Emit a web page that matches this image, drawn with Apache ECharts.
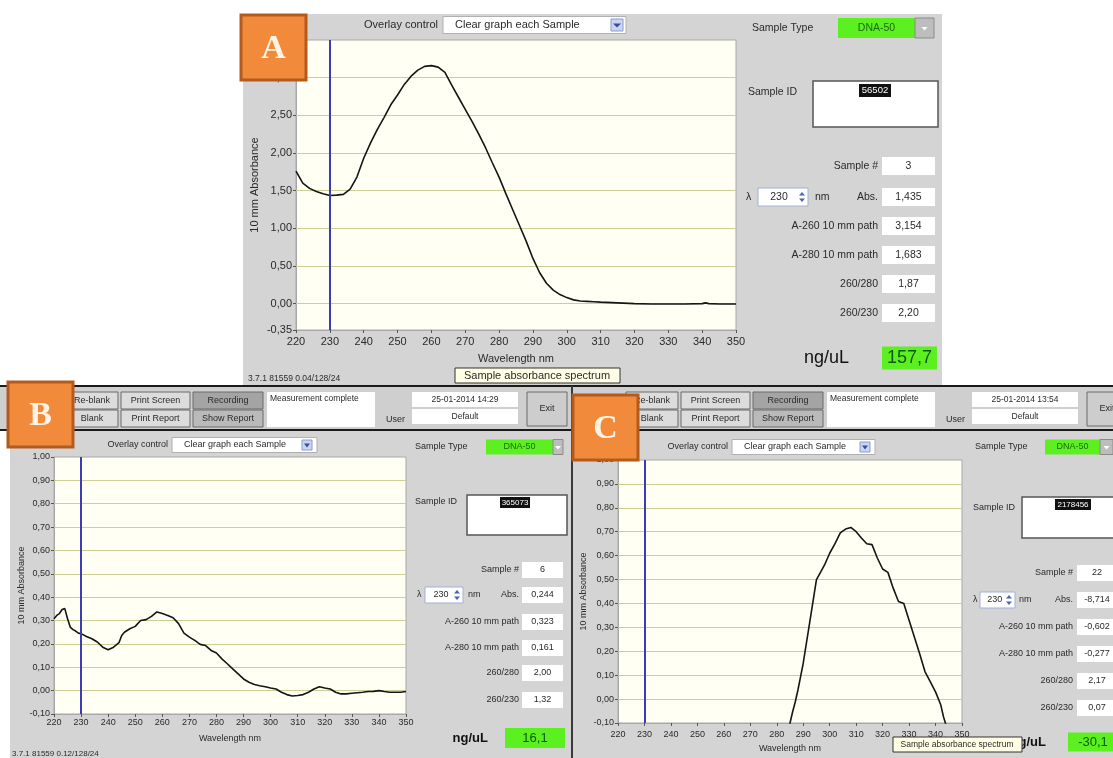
<!DOCTYPE html>
<html><head><meta charset="utf-8">
<script src="https://cdn.jsdelivr.net/npm/echarts@6/dist/echarts.min.js"></script>
<style>html,body{margin:0;padding:0;background:#fff}#c{width:1113px;height:758px}</style>
</head><body><div id="c"></div>
<script>
// ---------- DATA ----------
const wlA = [220,222,224,226,228,230,232,234,236,238,240,242,244,246,248,250,252,254,256,258,260,262,264,266,268,270,272,274,276,278,280,282,284,286,288,290,292,294,296,298,300,302,304,306,308,310,315,320,325,330,335,340,341,342,345,350];
const absA = [1.76,1.60,1.53,1.49,1.46,1.435,1.44,1.45,1.52,1.68,1.93,2.13,2.31,2.47,2.64,2.77,2.91,3.02,3.10,3.15,3.16,3.14,3.07,2.90,2.74,2.58,2.42,2.25,2.07,1.87,1.68,1.46,1.25,1.04,0.83,0.60,0.41,0.27,0.18,0.12,0.08,0.05,0.035,0.03,0.025,0.02,0.01,0.0,-0.005,-0.005,-0.005,0.0,0.01,0.0,-0.005,-0.005];

const wlB = [220,221,222,223,224,225,226,227,228,229,230,232,234,236,238,240,242,244,245,246,248,250,252,254,256,258,260,262,264,266,268,270,272,274,276,278,280,282,284,286,288,290,292,294,296,298,300,302,304,306,308,310,312,314,316,318,320,322,324,326,328,330,332,334,336,338,340,342,344,346,348,350];
const absB = [0.308,0.322,0.330,0.347,0.351,0.308,0.272,0.261,0.255,0.246,0.244,0.232,0.222,0.208,0.186,0.175,0.186,0.205,0.236,0.250,0.265,0.275,0.300,0.304,0.318,0.337,0.330,0.322,0.312,0.287,0.246,0.229,0.215,0.198,0.193,0.172,0.161,0.136,0.115,0.093,0.072,0.050,0.036,0.026,0.021,0.017,0.011,0.007,-0.007,-0.017,-0.023,-0.021,-0.017,-0.007,0.007,0.017,0.011,0.007,-0.007,-0.014,-0.014,-0.011,-0.009,-0.007,-0.004,-0.003,0.000,-0.004,-0.007,-0.007,-0.007,-0.004];

const wlC = [284,285,286,287,288,289,290,291,292,293,294,295,296,298,300,302,304,306,308,310,312,314,316,318,320,322,324,326,328,330,332,334,336,338,340,342,343,344,345];
const absC = [-0.14,-0.10,-0.053,-0.011,0.038,0.094,0.15,0.22,0.29,0.36,0.43,0.50,0.52,0.56,0.61,0.65,0.695,0.711,0.718,0.70,0.674,0.65,0.646,0.59,0.544,0.53,0.464,0.408,0.40,0.33,0.26,0.19,0.115,0.073,0.03,-0.025,-0.074,-0.11,-0.16];

const yTicksA = [-0.35,0,0.5,1,1.5,2,2.5,3];
const yGridA = [0,0.5,1,1.5,2,2.5,3];
const yTicksBC = [-0.1,0,0.1,0.2,0.3,0.4,0.5,0.6,0.7,0.8,0.9,1.0];
const yGridBC = [0,0.1,0.2,0.3,0.4,0.5,0.6,0.7,0.8,0.9];
const markWavelength = 230;

const readoutLabels = ['Sample #','Abs.','A-260 10 mm path','A-280 10 mm path','260/280','260/230'];
const readoutsA = ['3','1,435','3,154','1,683','1,87','2,20'];
const readoutsB = ['6','0,244','0,323','0,161','2,00','1,32'];
const readoutsC = ['22','-8,714','-0,602','-0,277','2,17','0,07'];
const concs = ['157,7','16,1','-30,1'];
const sampleIds = ['56502','365073','2178456'];
const dates = ['25-01-2014 14:29','25-01-2014 13:54'];

// ---------- HELPERS ----------
const FONT = '"Liberation Sans", "DejaVu Sans", Arial, sans-serif';
const GRAY = '#d4d4d4';
function R(x,y,w,h,fill,stroke,lw,z){return {type:'rect',silent:true,z:(z===undefined?2:z),shape:{x:x,y:y,width:w,height:h},style:{fill:fill,stroke:stroke||null,lineWidth:lw||0}};}
function T(x,y,text,size,o){o=o||{};return {type:'text',silent:true,z:(o.z===undefined?5:o.z),style:{x:x,y:y,text:text,fill:o.color||'#2a2a2a',font:(o.weight||'normal')+' '+size+'px '+(o.family||FONT),textAlign:o.align||'left',textVerticalAlign:'middle'}};}
function P(points,fill,z){return {type:'polygon',silent:true,z:z||6,shape:{points:points},style:{fill:fill}};}
const fmt2 = v => (Math.abs(v)<1e-9?0:v).toFixed(2).replace('.',',');

const els = [];
// backgrounds
els.push(R(243,14,699,371,GRAY,null,0,-1));
els.push(R(0,386,1113,44,'#cfcfcf',null,0,-1));
els.push(R(10,430,1103,328,GRAY,null,0,-1));
els.push(R(0,385,1113,2,'#1a1a1a',null,0,3));
els.push(R(0,429,1113,2,'#1a1a1a',null,0,3));
els.push(R(571,386,2,372,'#3a3a3a',null,0,3));

function badge(x,y,letter){
  els.push(R(x,y,65,65,'#f28a3c','#b35a1e',3,100));
  els.push(T(x+32.5,y+34,letter,34,{color:'#fff4e4',weight:'bold',family:'"Liberation Serif","DejaVu Serif",serif',align:'center',z:101}));
}
function overlay(lr,y,bx,bw,fs,bh){
  els.push(T(lr,y,'Overlay control',fs,{align:'right'}));
  els.push(R(bx,y-bh/2,bw,bh,'#ffffff','#b0b0b0',1,3));
  els.push(T(bx+12,y,'Clear graph each Sample',fs,{}));
  const ax=bx+bw-15, s=bh-5;
  els.push(R(ax,y-s/2,s,s,'#c9d6f2','#8a9ad0',1,4));
  els.push(P([[ax+2,y-1.5],[ax+s-2,y-1.5],[ax+s/2,y+2.5]],'#3a4aa0',6));
}
function toolbar(dx,date){
  const btn=(x,y,w,label,fill)=>{els.push(R(x+dx,y,w,17,fill,'#6a6a6a',1,3));els.push(T(x+dx+w/2,y+8.5,label,9,{align:'center'}));};
  btn(66,392,52,'Re-blank','#dcdcdc');
  btn(66,410,52,'Blank','#dcdcdc');
  btn(121,392,69,'Print Screen','#dcdcdc');
  btn(121,410,69,'Print Report','#dcdcdc');
  btn(193,392,70,'Recording','#a4a4a4');
  btn(193,410,70,'Show Report','#bababa');
  els.push(R(267+dx,392,108,35,'#ffffff',null,0,3));
  els.push(T(270+dx,399,'Measurement complete',8.5,{}));
  els.push(T(405+dx,420,'User',9,{align:'right'}));
  els.push(R(412+dx,392,106,15,'#ffffff',null,0,3));
  els.push(T(465+dx,399.5,date,8.5,{align:'center'}));
  els.push(R(412+dx,409,106,15,'#ffffff',null,0,3));
  els.push(T(465+dx,416.5,'Default',8.5,{align:'center'}));
  els.push(R(527+dx,392,40,34,'#cdcdcd','#6a6a6a',1,3));
  els.push(T(547+dx,409,'Exit',9,{align:'center'}));
}
function side(p){
  const fs=p.fs;
  els.push(T(p.typeX,p.typeY,'Sample Type',fs,{}));
  els.push(R(p.gx,p.typeY-p.gh/2,p.gw,p.gh,'#5cf020',null,0,3));
  els.push(T(p.gx+p.gw/2,p.typeY,'DNA-50',fs,{align:'center',color:'#1a6a10'}));
  els.push(R(p.gx+p.gw,p.typeY-p.gh/2,p.ddw,p.gh,'#bdbdbd','#8a8a8a',1,3));
  const cx=p.gx+p.gw+p.ddw/2;
  els.push(P([[cx-3,p.typeY-1],[cx+3,p.typeY-1],[cx,p.typeY+2.5]],'#ffffff',6));
  els.push(T(p.idX,p.idY,'Sample ID',fs,{}));
  els.push(R(p.idBox[0],p.idBox[1],p.idBox[2],p.idBox[3],'#ffffff','#555555',1.5,3));
  els.push(R(p.hl[0],p.hl[1],p.hl[2],p.hl[3],'#111111',null,0,4));
  els.push(T(p.hl[0]+p.hl[2]/2,p.hl[1]+p.hl[3]/2,p.id,fs-1,{align:'center',color:'#ffffff'}));
  p.rows.forEach((y,i)=>{
    els.push(T(p.labelR,y,readoutLabels[i],fs,{align:'right'}));
    els.push(R(p.bx,y-p.bh/2,p.bw,p.bh,'#ffffff',null,0,3));
    els.push(T(p.bx+p.bw/2,y,p.vals[i],fs,{align:'center'}));
  });
  const y=p.rows[1];
  els.push(T(p.lamX,y,'λ',fs,{}));
  els.push(R(p.lamBox,y-p.bh/2,p.lamW,p.bh,'#ffffff','#9fb0d8',1,3));
  els.push(T(p.lamBox+p.lamW*0.42,y,String(markWavelength),fs,{align:'center'}));
  const sx=p.lamBox+p.lamW-9;
  els.push(P([[sx,y-1.5],[sx+6,y-1.5],[sx+3,y-5]],'#4a64b0',6));
  els.push(P([[sx,y+1.5],[sx+6,y+1.5],[sx+3,y+5]],'#4a64b0',6));
  els.push(T(p.nmX,y,'nm',fs,{}));
  els.push(T(p.concR,p.cy,'ng/uL',p.cfs,{align:'right',color:'#111',weight:p.cw||'normal'}));
  els.push(R(p.cbx,p.cy-p.cbh/2,p.cbw,p.cbh,'#5cf020',null,0,3));
  els.push(T(p.cbx+p.cbw/2,p.cy,p.conc,p.cfs,{align:'center',color:'#0d5a0d'}));
}

// Panel A UI
overlay(438,25,443,183,11,17);
side({fs:10.5,typeX:752,typeY:28,gx:838,gw:77,gh:20,ddw:19,idX:748,idY:92,idBox:[813,81,125,46],hl:[859,84,32,13],id:sampleIds[0],
  rows:[166,197,226,255,284,313],labelR:878,bx:882,bw:53,bh:18,vals:readoutsA,lamX:746,lamBox:758,lamW:50,nmX:815,
  concR:849,cy:358,cfs:18,cbx:882,cbw:55,cbh:23,conc:concs[0]});
els.push(R(455,368,165,15,'#ffffe6','#333333',1,20));
els.push(T(537,375.5,'Sample absorbance spectrum',11,{align:'center',z:21}));
els.push(T(248,379,'3.7.1 81559 0.04/128/24',8.5,{}));

// Panel B UI
toolbar(0,dates[0]);
overlay(168,445,172,145,9,15);
side({fs:9,typeX:415,typeY:447,gx:486,gw:67,gh:15,ddw:10,idX:415,idY:502,idBox:[467,495,100,40],hl:[500,497,30,11],id:sampleIds[1],
  rows:[570,595,622,648,673,700],labelR:519,bx:522,bw:41,bh:16,vals:readoutsB,lamX:417,lamBox:425,lamW:38,nmX:468,
  concR:488,cy:738,cfs:13,cw:'bold',cbx:505,cbw:60,cbh:20,conc:concs[1]});
els.push(T(12,754,'3.7.1 81559 0.12/128/24',8,{}));

// Panel C UI
toolbar(560,dates[1]);
overlay(728,447,732,143,9,15);
side({fs:9,typeX:975,typeY:447,gx:1045,gw:55,gh:15,ddw:13,idX:973,idY:508,idBox:[1022,497,95,41],hl:[1055,499,36,11],id:sampleIds[2],
  rows:[573,600,627,654,681,708],labelR:1073,bx:1077,bw:40,bh:16,vals:readoutsC,lamX:973,lamBox:980,lamW:35,nmX:1019,
  concR:1046,cy:742,cfs:13,cw:'bold',cbx:1068,cbw:50,cbh:19,conc:concs[2]});
els.push(R(893,737,129,15,'#ffffe6','#333333',1,20));
els.push(T(957,744.5,'Sample absorbance spectrum',8.5,{align:'center',z:21}));

badge(241,15,'A');
badge(8,382,'B');
badge(573,395,'C');

// ---------- CHART ----------
const grids = [
  {left:296,top:40,width:440,height:290},
  {left:54,top:457,width:352,height:257},
  {left:618,top:460,width:344,height:263}
].map(g=>Object.assign(g,{show:true,backgroundColor:'#fffff4',borderColor:'#a8a8a8',borderWidth:1}));

const xCfg = [{fs:11,margin:6,gap:23},{fs:9,margin:4,gap:20},{fs:9,margin:7,gap:21}];
const xAxes = xCfg.map((c,i)=>({gridIndex:i,type:'value',min:220,max:350,interval:10,
  name:'Wavelength nm',nameLocation:'middle',nameGap:c.gap,nameTextStyle:{fontSize:c.fs,color:'#2a2a2a',fontFamily:FONT},
  axisLine:{show:true,onZero:false,lineStyle:{color:'#a8a8a8'}},axisTick:{show:true,length:3,lineStyle:{color:'#555'}},
  axisLabel:{fontSize:c.fs,color:'#2a2a2a',margin:c.margin,fontFamily:FONT},splitLine:{show:false}}));

const yCfg = [{min:-0.35,max:3.5,ticks:yTicksA,fs:11,gap:36},{min:-0.1,max:1.0,ticks:yTicksBC,fs:9,gap:25},{min:-0.1,max:1.0,ticks:yTicksBC,fs:9,gap:30}];
const yAxes = yCfg.map((c,i)=>({gridIndex:i,type:'value',min:c.min,max:c.max,
  name:'10 mm Absorbance',nameLocation:'middle',nameGap:c.gap,nameTextStyle:{fontSize:c.fs,color:'#2a2a2a',fontFamily:FONT},
  axisLine:{show:true,onZero:false,lineStyle:{color:'#a8a8a8'}},
  axisTick:{show:true,length:3,customValues:c.ticks,lineStyle:{color:'#555'}},
  axisLabel:{customValues:c.ticks,formatter:fmt2,fontSize:c.fs,color:'#2a2a2a',margin:4,fontFamily:FONT},
  splitLine:{show:false}}));

const curves = [[wlA,absA],[wlB,absB],[wlC,absC]];
const grid2 = [yGridA,yGridBC,yGridBC];
const series = [];
curves.forEach((c,i)=>{
  series.push({type:'line',xAxisIndex:i,yAxisIndex:i,data:[],silent:true,
    markLine:{z:1,silent:true,symbol:'none',animation:false,label:{show:false},
      lineStyle:{color:'#cdcd96',width:1,type:'solid'},data:grid2[i].map(v=>({yAxis:v}))}});
  series.push({type:'line',xAxisIndex:i,yAxisIndex:i,data:c[0].map((x,k)=>[x,c[1][k]]),
    showSymbol:false,smooth:false,clip:true,silent:true,lineStyle:{color:'#151515',width:1.6},
    markLine:{silent:true,symbol:'none',animation:false,label:{show:false},
      lineStyle:{color:'#3c3cb8',width:2,type:'solid'},data:[{xAxis:markWavelength}]}});
});

const chart = echarts.init(document.getElementById('c'),null,{renderer:'canvas'});
chart.setOption({animation:false,backgroundColor:'#ffffff',grid:grids,xAxis:xAxes,yAxis:yAxes,series:series,graphic:{elements:els}});
</script></body></html>
